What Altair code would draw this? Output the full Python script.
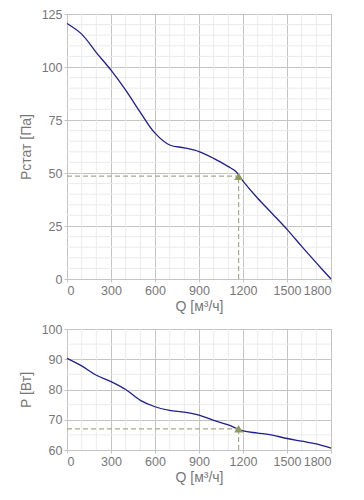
import altair as alt
import pandas as pd

# Static pressure curve
q_top = [0, 100, 200, 300, 400, 500, 600, 700, 800, 900, 1000, 1100, 1150, 1200, 1300, 1400, 1500, 1600, 1700, 1800]
p_top = [120.5, 115.5, 106.8, 98.5, 89.1, 78.6, 68.8, 63.2, 61.9, 60.1, 56.9, 53.0, 50.8, 46.2, 38.1, 30.8, 23.4, 15.4, 7.6, 0]

# Power curve
q_bot = [0, 100, 200, 300, 400, 500, 600, 700, 800, 900, 1000, 1100, 1200, 1300, 1400, 1500, 1600, 1700, 1800]
p_bot = [90.3, 87.8, 84.7, 82.6, 80.0, 76.4, 74.3, 73.1, 72.5, 71.5, 69.8, 68.3, 66.3, 65.6, 64.9, 63.8, 62.9, 62.0, 60.6]

# Operating point
q_op = 1170
p_op_top = 48.5
p_op_bot = 67

x_major = [0, 300, 600, 900, 1200, 1500, 1800]
x_minor = [100, 200, 400, 500, 700, 800, 1000, 1100, 1300, 1400, 1600, 1700]
y_top_major = [0, 25, 50, 75, 100, 125]
y_top_minor = [v for v in range(0, 126, 5) if v % 25 != 0]
y_bot_major = [60, 70, 80, 90, 100]
y_bot_minor = [65, 75, 85, 95]

FONT = "Liberation Sans"
LINE = "#1f1f8f"
DASH = "#a9a98c"
MARK = "#8e9b5e"
GRID_MAJOR = "#c4c4c4"
GRID_MINOR = "#ebebeb"
TXT = "#777777"


def panel(q, p, p_op, ymin, ymax, ymajor, yminor, ytitle, h):
    xs = alt.Scale(domain=[0, 1800], nice=False, zero=False)
    ys = alt.Scale(domain=[ymin, ymax], nice=False, zero=False)
    xax = alt.Axis(values=x_major, format="d", labelOverlap=False, title="Q [м³/ч]", grid=True,
                   gridColor=GRID_MAJOR, labelColor=TXT, titleColor=TXT, labelFont=FONT, titleFont=FONT,
                   labelFontSize=12.5, titleFontSize=14, titleFontWeight="normal",
                   domain=False, tickColor=GRID_MAJOR, tickSize=3, labelPadding=2, titlePadding=3)
    yax = alt.Axis(values=ymajor, format="d", labelOverlap=False, title=ytitle, grid=True,
                   gridColor=GRID_MAJOR, labelColor=TXT, titleColor=TXT, labelFont=FONT, titleFont=FONT,
                   labelFontSize=12.5, titleFontSize=14, titleFontWeight="normal",
                   domain=False, tickColor=GRID_MAJOR, tickSize=3, labelPadding=2, titlePadding=8)

    def X(f):
        return alt.X(f, scale=xs, axis=xax)

    def Y(f):
        return alt.Y(f, scale=ys, axis=yax)

    minor_x = alt.Chart(pd.DataFrame({"q": x_minor})).mark_rule(color=GRID_MINOR, strokeWidth=1).encode(
        x=X("q:Q"))
    minor_y = alt.Chart(pd.DataFrame({"p": yminor})).mark_rule(color=GRID_MINOR, strokeWidth=1).encode(
        y=Y("p:Q"))

    df = pd.DataFrame({"q": q, "p": p})
    line = alt.Chart(df).mark_line(color=LINE, strokeWidth=1.3, interpolate="catmull-rom").encode(
        x=X("q:Q"), y=Y("p:Q"))

    op = pd.DataFrame({"q": [q_op], "p": [p_op], "q0": [0], "p0": [ymin]})
    hdash = alt.Chart(op).mark_rule(color=DASH, strokeDash=[5, 3], strokeWidth=1.2).encode(
        x=X("q0:Q"), x2="q", y=Y("p:Q"))
    vdash = alt.Chart(op).mark_rule(color=DASH, strokeDash=[5, 3], strokeWidth=1.2).encode(
        x=X("q:Q"), y=Y("p0:Q"), y2="p")
    pt = alt.Chart(op).mark_point(shape="triangle-up", filled=True, color=MARK, size=75, opacity=1).encode(
        x=X("q:Q"), y=Y("p:Q"))

    return alt.layer(minor_x, minor_y, line, hdash, vdash, pt).properties(width=264, height=h)


top = panel(q_top, p_top, p_op_top, 0, 125, y_top_major, y_top_minor, "Рстат [Па]", 265)
bot = panel(q_bot, p_bot, p_op_bot, 60, 100, y_bot_major, y_bot_minor, "P [Вт]", 121)

chart = alt.vconcat(top, bot, spacing=50, bounds="flush").properties(
    padding={"left": 10, "top": -1, "right": 5, "bottom": 5}
).configure_view(stroke="#bdbdbd", strokeWidth=1).configure(background="white")

chart.save("out.html", embed_options={"renderer": "svg", "actions": False})
